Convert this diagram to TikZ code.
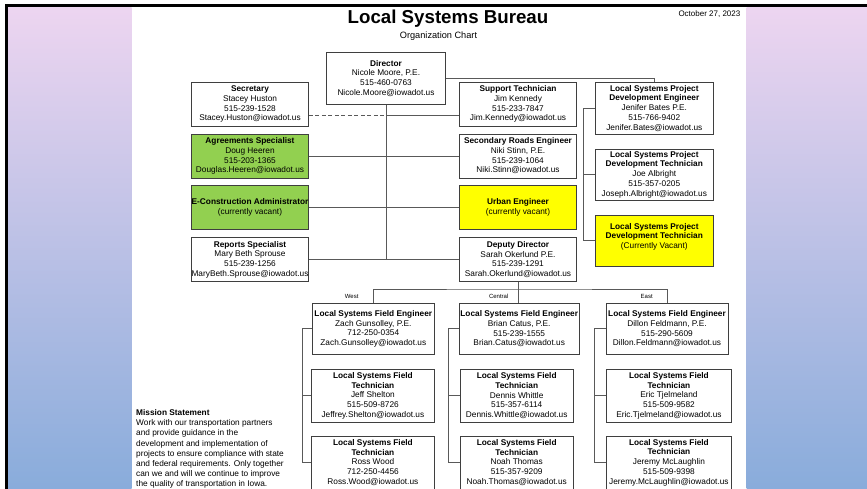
\documentclass[tikz,border=0pt]{standalone}
\usepackage{fontspec}
\setmainfont{Liberation Sans}
\usetikzlibrary{calc,positioning}
\definecolor{boxline}{HTML}{3F3F3F}
\definecolor{wiregray}{HTML}{595959}
\definecolor{agreen}{HTML}{92D050}
\definecolor{ayellow}{HTML}{FFFF00}
\definecolor{bgtop}{RGB}{237,213,240}
\definecolor{bgmid}{RGB}{214,205,235}
\definecolor{bgbot}{RGB}{137,172,219}
\tikzset{%
	post/.style    = {draw=boxline, line width=0.9pt, fill=white, rectangle, align=center, inner sep=0.5pt, minimum width=117pt, minimum height=44pt, font=\fontsize{8.3}{9.7}\selectfont}, % position
	fieldpost/.style = {post, minimum height=51pt}, % field engineer
	techpost/.style  = {post, minimum height=53pt}, % field technician
	wire/.style    = {draw=wiregray, line width=0.8pt}, % connector
	zone/.style    = {inner sep=0pt, font=\fontsize{6}{7}\selectfont}, % district label
}

\begin{document}
\begin{tikzpicture}[x=1pt, y=-1pt]
	\useasboundingbox (0,0) rectangle (867,488);
	\fill[white] (0,0) rectangle (867,488);
	\shade[top color=bgtop, middle color=bgmid, bottom color=bgbot] (8,7) rectangle (131.7,488);
	\shade[top color=bgtop, middle color=bgmid, bottom color=bgbot] (746.7,7) rectangle (867,488);
	\draw[line width=3pt, line join=miter] (6.6,490) -- (6.6,5.6) -- (870,5.6);

	% heading
	\node[anchor=base, inner sep=0pt] (title) at (448,23.3) {\fontsize{18.7}{20}\selectfont\bfseries Local Systems Bureau};
	\node[anchor=base, inner sep=0pt] (subtitle) at (438.5,38.5) {\fontsize{9.2}{11}\selectfont Organization Chart};
	\node[anchor=base west, inner sep=0pt] (date) at (678.3,16.5) {\fontsize{8}{9}\selectfont October 27, 2023};

	% bureau office
	\node[post, minimum width=118.3pt, minimum height=52pt] (dir) at (386,78.3) {\textbf{Director}\\Nicole Moore, P.E.\\515-460-0763\\Nicole.Moore@iowadot.us};
	\node[post] (sec) at (250,104.2) {\textbf{Secretary}\\Stacey Huston\\515-239-1528\\Stacey.Huston@iowadot.us};
	\node[post, fill=agreen] (agr) at (250,156) {\textbf{Agreements Specialist}\\Doug Heeren\\515-203-1365\\Douglas.Heeren@iowadot.us};
	\node[post, fill=agreen] (econ) at (250,207.5) {\textbf{E-Construction Administrator}\\(currently vacant)};
	\node[post] (rep) at (250,259.5) {\textbf{Reports Specialist}\\Mary Beth Sprouse\\515-239-1256\\MaryBeth.Sprouse@iowadot.us};
	\node[post] (sup) at (518,104.2) {\textbf{Support Technician}\\Jim Kennedy\\515-233-7847\\Jim.Kennedy@iowadot.us};
	\node[post] (sre) at (518,156) {\textbf{Secondary Roads Engineer}\\Niki Stinn, P.E.\\515-239-1064\\Niki.Stinn@iowadot.us};
	\node[post, fill=ayellow] (urb) at (518,207.5) {\textbf{Urban Engineer}\\(currently vacant)};
	\node[post] (dep) at (518,259.5) {\textbf{Deputy Director}\\Sarah Okerlund P.E.\\515-239-1291\\Sarah.Okerlund@iowadot.us};

	% project development
	\node[post, minimum width=118pt, minimum height=51.7pt] (lpe) at (654.3,108.2) {\textbf{Local Systems Project}\\\textbf{Development Engineer}\\Jenifer Bates P.E.\\515-766-9402\\Jenifer.Bates@iowadot.us};
	\node[post, minimum width=118pt, minimum height=51pt] (lpt) at (654.3,174.5) {\textbf{Local Systems Project}\\\textbf{Development Technician}\\Joe Albright\\515-357-0205\\Joseph.Albright@iowadot.us};
	\node[post, fill=ayellow, minimum width=118pt, minimum height=51.7pt] (lpv) at (654.3,240.8) {\textbf{Local Systems Project}\\\textbf{Development Technician}\\(Currently Vacant)\\\mbox{}};

	% field staff
	\node[fieldpost, minimum width=121.3pt] (wfe) at (373.3,328.8) {\textbf{Local Systems Field Engineer}\\Zach Gunsolley, P.E.\\712-250-0354\\Zach.Gunsolley@iowadot.us};
	\node[fieldpost, minimum width=119.7pt] (cfe) at (519.2,328.8) {\textbf{Local Systems Field Engineer}\\Brian Catus, P.E.\\515-239-1555\\Brian.Catus@iowadot.us};
	\node[fieldpost, minimum width=122pt] (efe) at (667,328.8) {\textbf{Local Systems Field Engineer}\\Dillon Feldmann, P.E.\\515-290-5609\\Dillon.Feldmann@iowadot.us};
	\node[techpost, minimum width=122.3pt] (wt1) at (372.9,395.8) {\textbf{Local Systems Field}\\\textbf{Technician}\\Jeff Shelton\\515-509-8726\\Jeffrey.Shelton@iowadot.us};
	\node[techpost, minimum width=122.3pt] (wt2) at (372.9,462.5) {\textbf{Local Systems Field}\\\textbf{Technician}\\Ross Wood\\712-250-4456\\Ross.Wood@iowadot.us};
	\node[techpost, minimum width=113.3pt] (ct1) at (516.7,395.8) {\textbf{Local Systems Field}\\\textbf{Technician}\\Dennis Whittle\\515-357-6114\\Dennis.Whittle@iowadot.us};
	\node[techpost, minimum width=113.3pt] (ct2) at (516.7,462.5) {\textbf{Local Systems Field}\\\textbf{Technician}\\Noah Thomas\\515-357-9209\\Noah.Thomas@iowadot.us};
	\node[techpost, minimum width=125.7pt] (et1) at (668.9,395.8) {\textbf{Local Systems Field}\\\textbf{Technician}\\Eric Tjelmeland\\515-509-9582\\Eric.Tjelmeland@iowadot.us};
	\node[techpost, minimum width=125.7pt] (et2) at (668.9,462.5) {\textbf{Local Systems Field}\\\textbf{Technician}\\Jeremy McLaughlin\\515-509-9398\\Jeremy.McLaughlin@iowadot.us};

	\node[zone] (west) at (351.7,296) {West};
	\node[zone] (central) at (498.7,296) {Central};
	\node[zone] (east) at (646.7,296) {East};

	\node[anchor=north west, align=left, inner sep=0pt, font=\fontsize{8.3}{10.1}\selectfont] (mission) at (136,409.5) {\textbf{Mission Statement}\\Work with our transportation partners\\and provide guidance in the\\development and implementation of\\projects to ensure compliance with state\\and federal requirements. Only together\\can we and will we continue to improve\\the quality of transportation in Iowa.};

	% connectors
	\coordinate (secln) at ($(sec.north east)!0.75!(sec.south east)$);
	\coordinate (pbus) at (583.3,0);
	\coordinate (fbus) at (518.3,289);
	\draw[wire] (dir.south) -- (dir.south |- rep.east);
	\draw[wire, dash pattern=on 4pt off 2.5pt] (secln) -- (dir.south |- secln);
	\draw[wire] (dir.south |- secln) -- (sup.west |- secln);
	\draw[wire] (agr.east) -- (sre.west);
	\draw[wire] (econ.east) -- (urb.west);
	\draw[wire] (rep.east) -- (dep.west);
	\draw[wire] (dir.east) -| (lpe.north);
	\draw[wire] (lpe.west) -| (pbus |- lpv.west) -- (lpv.west);
	\draw[wire] (lpt.west) -- (pbus |- lpt.west);
	\draw[wire] (dep.south) -- (dep.south |- cfe.north);
	\draw[wire] (wfe.north) |- (fbus) -| (efe.north);
	\draw[wire] (wfe.west) -| ($(wt2.west)+(-9,0)$) -- (wt2.west);
	\draw[wire] (wt1.west) -- ++(-9,0);
	\draw[wire] (cfe.west) -| ($(ct2.west)+(-11.7,0)$) -- (ct2.west);
	\draw[wire] (ct1.west) -- ++(-11.7,0);
	\draw[wire] (efe.west) -| ($(et2.west)+(-11,0)$) -- (et2.west);
	\draw[wire] (et1.west) -- ++(-11,0);
\end{tikzpicture}
\end{document}
